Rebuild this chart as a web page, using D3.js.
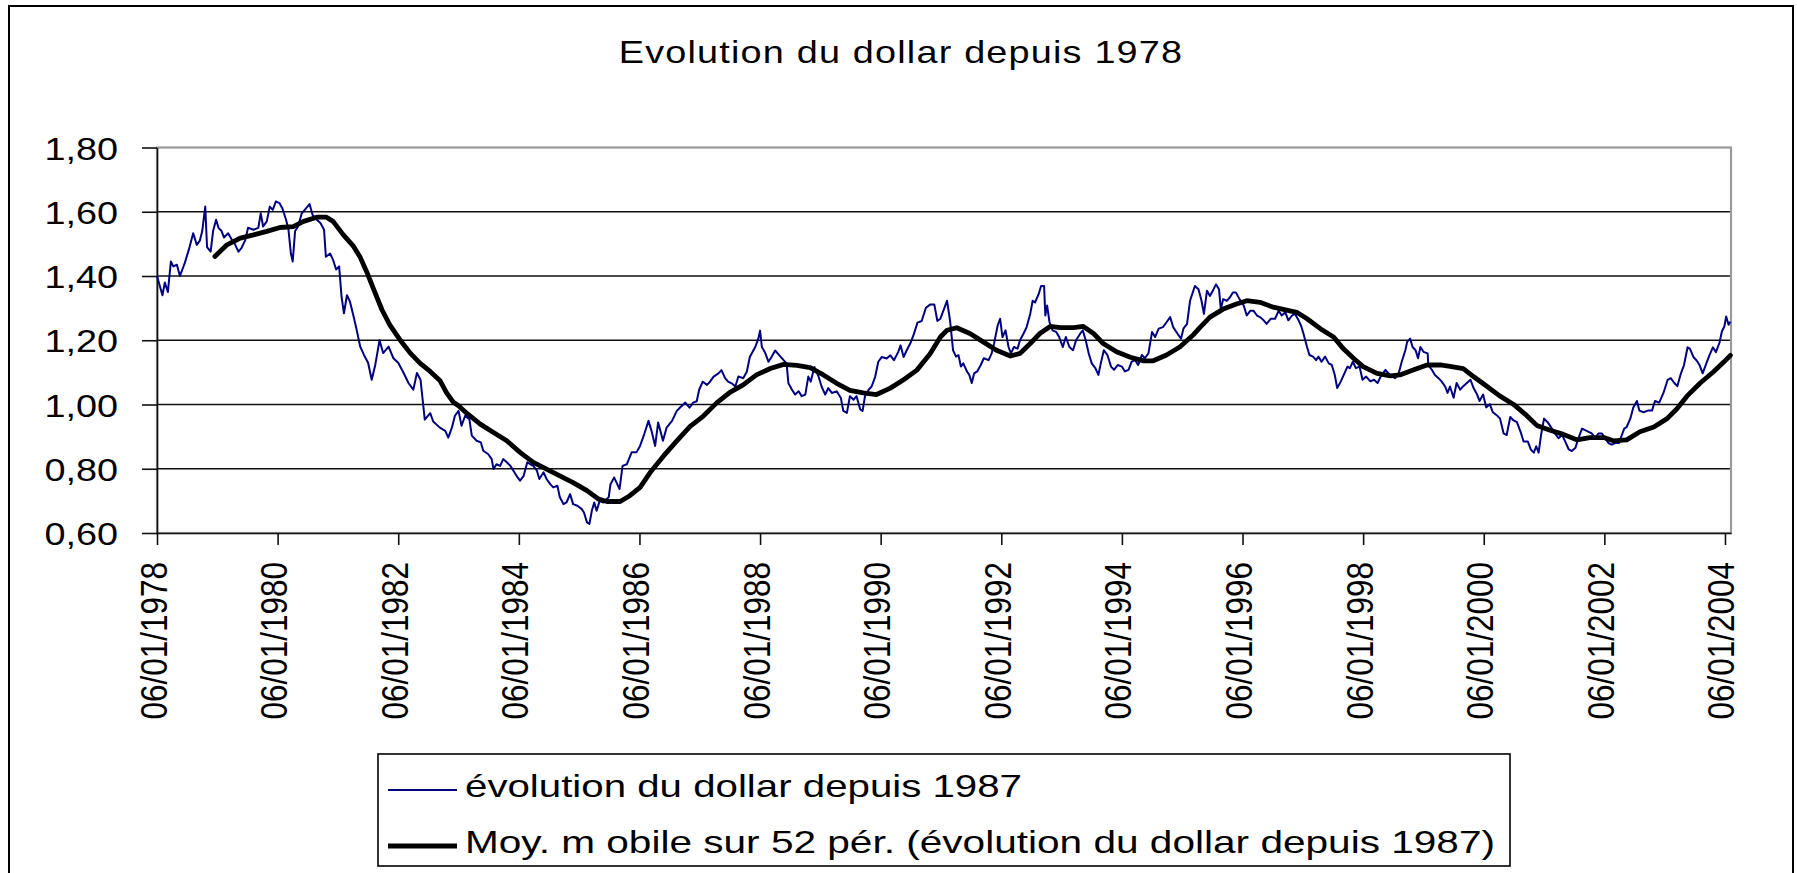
<!DOCTYPE html>
<html>
<head>
<meta charset="utf-8">
<script src="https://cdn.jsdelivr.net/npm/d3@7"></script>
<style>
  body { margin: 0; background: #fff; }
  svg text { font-family: "Liberation Sans", Arial, sans-serif; font-size: 31.5px; fill: #000; }
</style>
</head>
<body>
<div id="chart"></div>
<script>
const titleText = 'Evolution du dollar depuis 1978';
const seriesNames = ['évolution du dollar depuis 1987', 'Moy. m obile sur 52 pér. (évolution du dollar depuis 1987)'];
const yTicks = [0.6, 0.8, 1.0, 1.2, 1.4, 1.6, 1.8];
const xTickYears = [1978, 1980, 1982, 1984, 1986, 1988, 1990, 1992, 1994, 1996, 1998, 2000, 2002, 2004];

const dollar = [
  [1978.00,1.40],[1978.09,1.34],[1978.13,1.38],[1978.18,1.35],[1978.23,1.445],[1978.27,1.43],[1978.33,1.435],[1978.38,1.40],
  [1978.46,1.44],[1978.54,1.49],[1978.60,1.533],[1978.66,1.497],[1978.71,1.51],[1978.75,1.54],[1978.80,1.616],[1978.83,1.49],
  [1978.89,1.476],[1978.93,1.54],[1978.98,1.575],[1979.02,1.55],[1979.07,1.54],[1979.11,1.52],[1979.18,1.533],[1979.25,1.51],
  [1979.29,1.50],[1979.35,1.476],[1979.40,1.487],[1979.46,1.51],[1979.51,1.55],[1979.60,1.544],[1979.68,1.55],[1979.72,1.595],
  [1979.76,1.554],[1979.82,1.57],[1979.87,1.616],[1979.92,1.606],[1979.97,1.632],[1980.03,1.627],[1980.08,1.61],[1980.14,1.575],
  [1980.18,1.544],[1980.22,1.47],[1980.25,1.445],[1980.29,1.54],[1980.34,1.554],[1980.40,1.595],[1980.45,1.606],[1980.53,1.624],
  [1980.58,1.59],[1980.65,1.575],[1980.71,1.565],[1980.77,1.544],[1980.80,1.46],[1980.87,1.47],[1980.92,1.45],[1980.97,1.42],
  [1981.02,1.43],[1981.06,1.336],[1981.10,1.284],[1981.15,1.34],[1981.20,1.32],[1981.26,1.274],[1981.31,1.233],[1981.37,1.18],
  [1981.43,1.155],[1981.50,1.13],[1981.56,1.077],[1981.62,1.124],[1981.69,1.20],[1981.75,1.16],[1981.84,1.18],[1981.92,1.144],
  [1982.00,1.13],[1982.09,1.098],[1982.17,1.067],[1982.25,1.046],[1982.31,1.098],[1982.37,1.077],[1982.44,0.953],[1982.53,0.973],
  [1982.58,0.947],[1982.69,0.928],[1982.78,0.918],[1982.83,0.897],[1982.89,0.928],[1982.94,0.965],[1983.00,0.98],[1983.05,0.934],
  [1983.11,0.965],[1983.18,0.954],[1983.22,0.903],[1983.30,0.887],[1983.37,0.882],[1983.41,0.856],[1983.49,0.846],[1983.55,0.83],
  [1983.58,0.799],[1983.63,0.814],[1983.69,0.809],[1983.74,0.83],[1983.80,0.82],[1983.86,0.809],[1983.91,0.794],[1983.98,0.773],
  [1984.02,0.763],[1984.08,0.778],[1984.14,0.82],[1984.19,0.814],[1984.24,0.809],[1984.30,0.794],[1984.34,0.768],[1984.41,0.789],
  [1984.46,0.768],[1984.52,0.752],[1984.57,0.742],[1984.64,0.747],[1984.68,0.711],[1984.74,0.69],[1984.79,0.695],[1984.85,0.721],
  [1984.90,0.69],[1984.97,0.685],[1985.04,0.675],[1985.08,0.664],[1985.13,0.633],[1985.17,0.628],[1985.21,0.669],[1985.25,0.695],
  [1985.29,0.669],[1985.34,0.70],[1985.40,0.695],[1985.49,0.711],[1985.52,0.752],[1985.58,0.773],[1985.62,0.757],[1985.67,0.737],
  [1985.72,0.809],[1985.79,0.814],[1985.87,0.851],[1985.95,0.851],[1986.01,0.871],[1986.08,0.908],[1986.15,0.949],[1986.20,0.918],
  [1986.26,0.871],[1986.31,0.944],[1986.39,0.887],[1986.45,0.928],[1986.54,0.949],[1986.62,0.98],[1986.67,0.99],[1986.76,1.006],
  [1986.83,0.99],[1986.89,1.006],[1986.95,1.01],[1986.99,1.046],[1987.05,1.071],[1987.12,1.061],[1987.17,1.071],[1987.23,1.087],
  [1987.31,1.097],[1987.36,1.107],[1987.42,1.082],[1987.47,1.071],[1987.53,1.066],[1987.59,1.056],[1987.64,1.087],[1987.72,1.082],
  [1987.78,1.102],[1987.83,1.148],[1987.92,1.179],[1987.97,1.204],[1988.00,1.23],[1988.03,1.179],[1988.08,1.163],[1988.14,1.133],
  [1988.19,1.148],[1988.25,1.168],[1988.32,1.153],[1988.39,1.138],[1988.44,1.128],[1988.47,1.066],[1988.53,1.046],[1988.58,1.031],
  [1988.64,1.041],[1988.69,1.026],[1988.75,1.031],[1988.80,1.087],[1988.84,1.071],[1988.90,1.117],[1988.97,1.087],[1989.02,1.056],
  [1989.08,1.031],[1989.13,1.051],[1989.19,1.036],[1989.27,1.041],[1989.34,1.02],[1989.38,0.98],[1989.44,0.974],[1989.49,1.026],
  [1989.55,1.015],[1989.60,1.026],[1989.66,0.985],[1989.70,0.98],[1989.74,1.026],[1989.80,1.046],[1989.85,1.056],[1989.91,1.087],
  [1989.96,1.133],[1990.02,1.148],[1990.10,1.143],[1990.16,1.153],[1990.22,1.138],[1990.29,1.163],[1990.33,1.184],[1990.38,1.148],
  [1990.43,1.168],[1990.50,1.194],[1990.55,1.219],[1990.61,1.255],[1990.68,1.26],[1990.75,1.301],[1990.82,1.311],[1990.89,1.311],
  [1990.94,1.26],[1990.99,1.267],[1991.04,1.292],[1991.10,1.323],[1991.15,1.262],[1991.20,1.169],[1991.25,1.149],[1991.29,1.154],
  [1991.33,1.118],[1991.37,1.128],[1991.43,1.103],[1991.47,1.092],[1991.51,1.067],[1991.55,1.097],[1991.60,1.103],[1991.66,1.123],
  [1991.71,1.144],[1991.79,1.138],[1991.84,1.159],[1991.88,1.19],[1991.94,1.246],[1991.98,1.267],[1992.02,1.21],[1992.07,1.231],
  [1992.12,1.179],[1992.16,1.159],[1992.21,1.179],[1992.27,1.174],[1992.31,1.20],[1992.37,1.221],[1992.42,1.241],[1992.48,1.282],
  [1992.52,1.323],[1992.56,1.318],[1992.62,1.344],[1992.66,1.369],[1992.71,1.369],[1992.73,1.277],[1992.76,1.308],[1992.80,1.256],
  [1992.85,1.231],[1992.91,1.226],[1992.96,1.21],[1993.02,1.179],[1993.07,1.21],[1993.13,1.179],[1993.19,1.169],[1993.24,1.20],
  [1993.31,1.221],[1993.35,1.231],[1993.40,1.20],[1993.45,1.159],[1993.50,1.128],[1993.56,1.113],[1993.61,1.092],[1993.65,1.128],
  [1993.70,1.169],[1993.76,1.154],[1993.82,1.118],[1993.87,1.108],[1993.93,1.123],[1994.00,1.118],[1994.05,1.103],[1994.11,1.108],
  [1994.16,1.133],[1994.22,1.138],[1994.27,1.123],[1994.33,1.154],[1994.38,1.144],[1994.44,1.159],[1994.50,1.226],[1994.55,1.21],
  [1994.61,1.236],[1994.68,1.241],[1994.74,1.256],[1994.80,1.272],[1994.85,1.241],[1994.92,1.221],[1994.98,1.205],[1995.02,1.236],
  [1995.08,1.251],[1995.13,1.323],[1995.21,1.369],[1995.27,1.359],[1995.32,1.323],[1995.36,1.282],[1995.41,1.354],[1995.46,1.338],
  [1995.52,1.359],[1995.56,1.374],[1995.61,1.359],[1995.64,1.297],[1995.68,1.328],[1995.74,1.323],[1995.79,1.333],[1995.84,1.349],
  [1995.89,1.349],[1995.95,1.328],[1996.02,1.308],[1996.07,1.277],[1996.13,1.292],[1996.18,1.292],[1996.24,1.277],[1996.29,1.272],
  [1996.35,1.262],[1996.40,1.251],[1996.47,1.267],[1996.54,1.267],[1996.60,1.292],[1996.65,1.277],[1996.71,1.287],[1996.76,1.262],
  [1996.82,1.277],[1996.87,1.282],[1996.93,1.262],[1996.97,1.246],[1997.01,1.221],[1997.07,1.179],[1997.11,1.154],[1997.17,1.149],
  [1997.22,1.138],[1997.26,1.149],[1997.31,1.133],[1997.37,1.149],[1997.43,1.128],[1997.48,1.123],[1997.53,1.092],[1997.57,1.051],
  [1997.63,1.072],[1997.69,1.097],[1997.74,1.118],[1997.78,1.113],[1997.83,1.133],[1997.88,1.113],[1997.94,1.118],[1997.99,1.077],
  [1998.05,1.087],[1998.12,1.072],[1998.18,1.077],[1998.24,1.067],[1998.29,1.087],[1998.37,1.108],[1998.42,1.097],[1998.48,1.087],
  [1998.53,1.082],[1998.59,1.097],[1998.64,1.133],[1998.70,1.169],[1998.73,1.195],[1998.78,1.205],[1998.82,1.179],[1998.87,1.169],
  [1998.91,1.144],[1998.95,1.179],[1999.00,1.164],[1999.07,1.159],[1999.08,1.123],[1999.14,1.108],[1999.19,1.092],[1999.25,1.082],
  [1999.30,1.072],[1999.36,1.056],[1999.40,1.036],[1999.44,1.056],[1999.50,1.021],[1999.55,1.067],[1999.61,1.046],[1999.66,1.057],
  [1999.72,1.067],[1999.78,1.077],[1999.83,1.052],[1999.89,1.031],[1999.93,1.011],[1999.99,1.031],[2000.04,0.991],[2000.10,1.001],
  [2000.15,0.976],[2000.22,0.966],[2000.27,0.956],[2000.33,0.91],[2000.38,0.905],[2000.44,0.961],[2000.49,0.951],[2000.55,0.945],
  [2000.62,0.91],[2000.66,0.885],[2000.73,0.885],[2000.78,0.86],[2000.83,0.85],[2000.87,0.87],[2000.91,0.85],[2000.95,0.905],
  [2001.00,0.956],[2001.06,0.945],[2001.13,0.925],[2001.18,0.91],[2001.24,0.895],[2001.30,0.905],[2001.35,0.885],[2001.41,0.86],
  [2001.46,0.855],[2001.52,0.865],[2001.57,0.895],[2001.63,0.925],[2001.68,0.92],[2001.74,0.915],[2001.79,0.91],[2001.85,0.895],
  [2001.90,0.91],[2001.96,0.91],[2002.01,0.895],[2002.07,0.88],[2002.12,0.875],[2002.18,0.88],[2002.24,0.88],[2002.29,0.905],
  [2002.33,0.925],[2002.37,0.93],[2002.43,0.956],[2002.48,0.991],[2002.54,1.011],[2002.58,0.981],[2002.65,0.976],[2002.72,0.981],
  [2002.79,0.981],[2002.84,1.011],[2002.91,1.006],[2002.98,1.036],[2003.05,1.077],[2003.10,1.082],[2003.16,1.067],[2003.21,1.057],
  [2003.27,1.097],[2003.32,1.122],[2003.38,1.178],[2003.42,1.173],[2003.48,1.147],[2003.53,1.137],[2003.58,1.122],[2003.63,1.097],
  [2003.69,1.127],[2003.74,1.152],[2003.80,1.178],[2003.85,1.163],[2003.91,1.193],[2003.95,1.228],[2003.99,1.243],[2004.02,1.274],
  [2004.06,1.248],[2004.09,1.258]
];

// moving average, also
const movingAvg = [
  [1978.96,1.461],[1979.16,1.497],[1979.38,1.518],[1979.60,1.528],[1979.82,1.539],[1980.04,1.551],[1980.26,1.554],[1980.43,1.57],
  [1980.65,1.583],[1980.81,1.583],[1980.92,1.57],[1981.09,1.528],[1981.26,1.492],[1981.37,1.458],[1981.48,1.412],[1981.59,1.36],
  [1981.73,1.295],[1981.86,1.248],[1982.03,1.201],[1982.20,1.16],[1982.36,1.129],[1982.53,1.103],[1982.69,1.075],[1982.80,1.037],
  [1982.91,1.008],[1983.00,0.996],[1983.14,0.972],[1983.36,0.939],[1983.58,0.913],[1983.80,0.887],[1984.02,0.851],[1984.24,0.82],
  [1984.46,0.799],[1984.68,0.778],[1984.90,0.757],[1985.13,0.732],[1985.32,0.706],[1985.46,0.698],[1985.68,0.698],[1985.84,0.716],
  [1986.01,0.742],[1986.18,0.789],[1986.40,0.84],[1986.62,0.887],[1986.84,0.932],[1987.06,0.964],[1987.28,1.005],[1987.50,1.038],
  [1987.72,1.061],[1987.94,1.092],[1988.17,1.112],[1988.39,1.125],[1988.61,1.122],[1988.83,1.115],[1989.05,1.092],[1989.27,1.066],
  [1989.49,1.044],[1989.71,1.036],[1989.93,1.031],[1990.16,1.051],[1990.38,1.077],[1990.60,1.107],[1990.82,1.158],[1990.99,1.21],
  [1991.10,1.231],[1991.26,1.239],[1991.48,1.221],[1991.70,1.195],[1991.92,1.169],[1992.15,1.151],[1992.31,1.159],[1992.48,1.19],
  [1992.64,1.221],[1992.81,1.243],[1992.98,1.239],[1993.20,1.239],[1993.36,1.243],[1993.53,1.221],[1993.69,1.19],[1993.91,1.164],
  [1994.14,1.147],[1994.36,1.136],[1994.52,1.136],[1994.74,1.154],[1994.96,1.179],[1995.19,1.218],[1995.30,1.241],[1995.46,1.272],
  [1995.68,1.297],[1995.90,1.313],[1996.07,1.323],[1996.29,1.318],[1996.51,1.303],[1996.73,1.294],[1996.90,1.287],[1997.07,1.267],
  [1997.29,1.236],[1997.51,1.21],[1997.67,1.174],[1997.84,1.144],[1998.00,1.118],[1998.23,1.097],[1998.45,1.089],[1998.61,1.092],
  [1998.84,1.108],[1999.06,1.123],[1999.28,1.123],[1999.44,1.119],[1999.66,1.112],[1999.83,1.087],[2000.05,1.057],[2000.27,1.026],
  [2000.49,1.001],[2000.71,0.966],[2000.88,0.935],[2001.10,0.92],[2001.32,0.907],[2001.54,0.89],[2001.76,0.897],[2001.99,0.897],
  [2002.15,0.887],[2002.37,0.89],[2002.59,0.915],[2002.82,0.93],[2003.04,0.956],[2003.20,0.986],[2003.37,1.026],[2003.59,1.067],
  [2003.81,1.102],[2003.98,1.132],[2004.09,1.153]
];

function makeChart() {
    const width = 1797,
        height = 873,
        left = 157, right = 1731, top = 147.5, bottom = 533,
        stretch = 1.2;   // the picture is wider than tall, text too

    let svg = d3.select('#chart').append('svg')
        .attr('width', width)
        .attr('height', height);

    // chart area frame
    svg.append('rect')
        .attr('x', 9).attr('y', 6)
        .attr('width', 1784).attr('height', 920)
        .attr('fill', '#fff')
        .attr('stroke', '#000')
        .attr('stroke-width', 2);

    svg.append('text')
        .attr('transform', 'translate(901,63) scale(' + stretch + ',1)')
        .attr('text-anchor', 'middle')
        .style('letter-spacing', '1px')
        .text(titleText);

    let x = d3.scaleLinear().domain([1978, 2004.1]).range([left, right]);
    let y = d3.scaleLinear().domain([0.6, 1.8]).range([bottom, top]);

    // gridlines
    svg.append('g')
        .selectAll('line')
        .data(yTicks.slice(1, -1))
        .enter().append('line')
        .attr('x1', left).attr('x2', right)
        .attr('y1', d => y(d)).attr('y2', d => y(d))
        .attr('stroke', '#111')
        .attr('stroke-width', 1.3);

    // plot area border (grey)
    svg.append('rect')
        .attr('x', left).attr('y', top)
        .attr('width', right - left).attr('height', bottom - top)
        .attr('fill', 'none')
        .attr('stroke', '#9a9a9a')
        .attr('stroke-width', 2.2);

    let fmt = d3.format('.2f');

    let yAxis = svg.append('g')
        .attr('transform', 'translate(' + left + ',0)')
        .call(d3.axisLeft(y).tickValues(yTicks).tickSize(15).tickSizeOuter(0)
            .tickFormat(d => fmt(d).replace('.', ',')));
    yAxis.selectAll('text')
        .attr('x', 0)
        .attr('dy', '0.37em')
        .attr('transform', 'translate(' + (118 - left) + ',0) scale(' + stretch + ',1)')
        .style('text-anchor', 'end');

    let xAxis = svg.append('g')
        .attr('transform', 'translate(0,' + bottom + ')')
        .call(d3.axisBottom(x).tickValues(xTickYears).tickSize(12).tickSizeOuter(0)
            .tickFormat(d => '06/01/' + d));
    xAxis.selectAll('text')
        .attr('x', 0).attr('y', 0).attr('dy', 0)
        .attr('transform', 'translate(9,29) scale(' + stretch + ',1) rotate(-90)')
        .style('text-anchor', 'end');

    [yAxis, xAxis].forEach(g => {
        g.attr('font-size', null).attr('font-family', null);
        g.selectAll('path, line').attr('stroke', '#111').attr('stroke-width', 1.6);
    });

    let line = d3.line()
        .x(d => x(d[0]))
        .y(d => y(d[1]));

    svg.append('path')
        .datum(dollar)
        .attr('d', line)
        .attr('fill', 'none')
        .attr('stroke', '#000080')
        .attr('stroke-width', 2)
        .attr('stroke-linejoin', 'round');

    svg.append('path')
        .datum(movingAvg)
        .attr('d', line)
        .attr('fill', 'none')
        .attr('stroke', '#000')
        .attr('stroke-width', 4.8)
        .attr('stroke-linejoin', 'round')
        .attr('stroke-linecap', 'round');

    // legend
    let legend = svg.append('g');
    legend.append('rect')
        .attr('x', 378).attr('y', 754)
        .attr('width', 1132).attr('height', 112)
        .attr('fill', '#fff')
        .attr('stroke', '#000')
        .attr('stroke-width', 1.6);

    const legendRows = [
        { color: '#000080', w: 2, lineY: 790, textW: 557 },
        { color: '#000', w: 5, lineY: 846, textW: 1030 }
    ];
    legendRows.forEach((r, i) => {
        legend.append('line')
            .attr('x1', 388).attr('x2', 457)
            .attr('y1', r.lineY).attr('y2', r.lineY)
            .attr('stroke', r.color)
            .attr('stroke-width', r.w);
        legend.append('text')
            .attr('x', 465).attr('y', r.lineY + 7)
            .attr('textLength', r.textW)
            .attr('lengthAdjust', 'spacingAndGlyphs')
            .text(seriesNames[i]);
    });
}

makeChart();
</script>
</body>
</html>
